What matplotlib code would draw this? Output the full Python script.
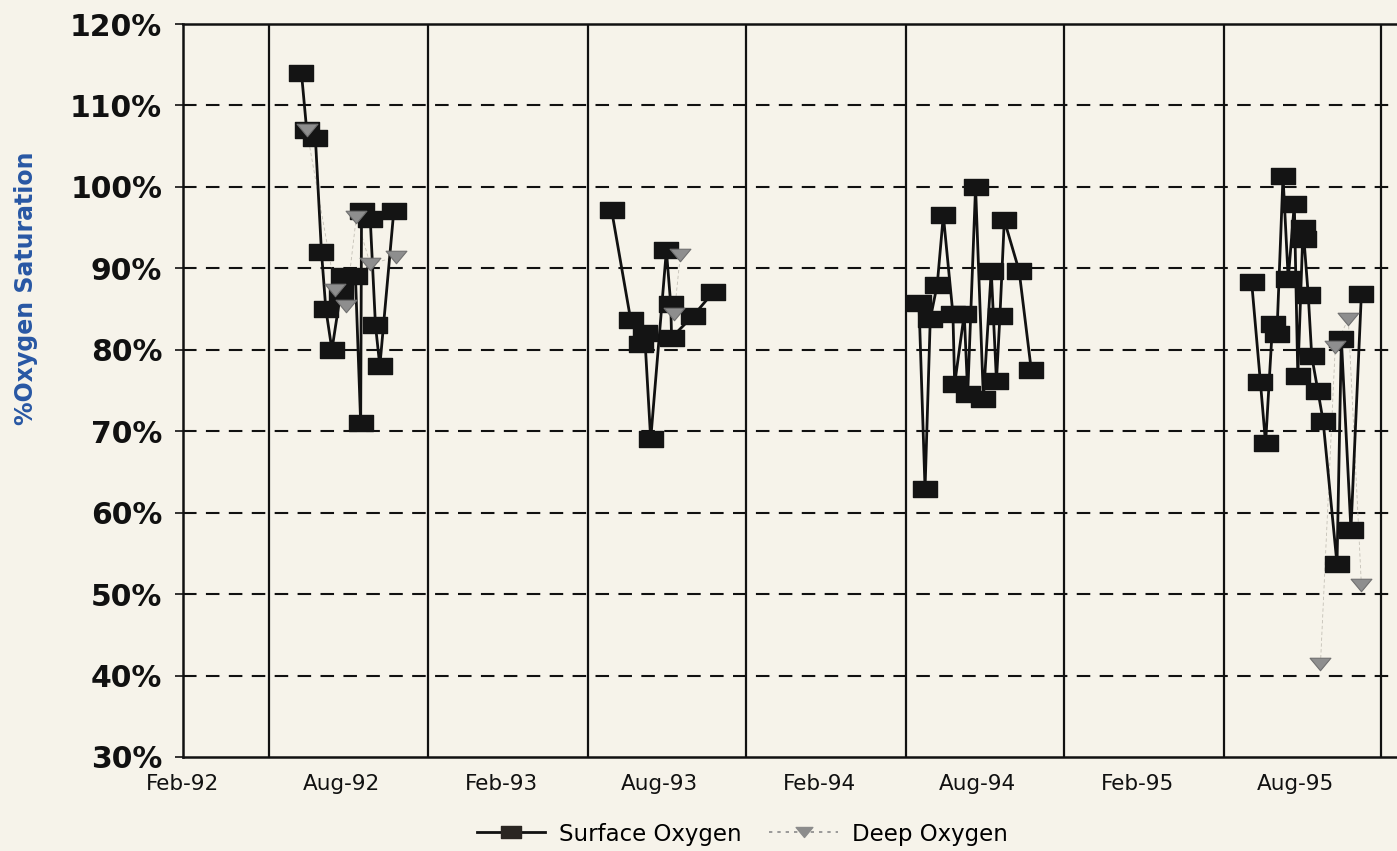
import numpy as np
import pandas as pd
import matplotlib
matplotlib.use("Agg")
import matplotlib.pyplot as plt
from matplotlib.path import Path
from matplotlib.lines import Line2D
from matplotlib.ticker import FuncFormatter

# ---- data: % oxygen saturation, summer sampling seasons 1992-1995 ----
surface_dates = [
    "1992-06-16", "1992-06-22", "1992-07-02", "1992-07-09", "1992-07-14",
    "1992-07-21", "1992-07-31", "1992-08-03", "1992-08-17", "1992-08-23",
    "1992-08-24", "1992-09-03", "1992-09-09", "1992-09-14", "1992-09-30",
    "1993-06-07", "1993-06-29", "1993-07-11", "1993-07-15", "1993-07-22",
    "1993-08-09", "1993-08-14", "1993-08-15", "1993-09-09", "1993-10-02",
    "1994-05-26", "1994-06-02", "1994-06-08", "1994-06-16", "1994-06-23",
    "1994-07-04", "1994-07-06", "1994-07-17", "1994-07-21", "1994-07-30",
    "1994-08-08", "1994-08-17", "1994-08-23", "1994-08-27", "1994-09-01",
    "1994-09-18", "1994-10-02",
    "1995-06-12", "1995-06-22", "1995-06-28", "1995-07-06", "1995-07-11",
    "1995-07-18", "1995-07-24", "1995-07-31", "1995-08-04", "1995-08-10",
    "1995-08-11", "1995-08-16", "1995-08-20", "1995-08-27", "1995-09-02",
    "1995-09-18", "1995-09-23", "1995-10-04", "1995-10-16",
]
surface_pct = [
    114, 107, 106, 92, 85,
    80, 87, 89, 89, 71,
    97, 96, 83, 78, 97,
    97.2, 83.7, 80.7, 82.0, 69.0,
    92.2, 85.6, 81.5, 84.2, 87.1,
    85.8, 62.9, 83.8, 88.0, 96.5,
    84.4, 75.8, 84.4, 74.6, 100.0,
    74.0, 89.7, 76.2, 84.2, 95.9,
    89.7, 77.5,
    88.3, 76.1, 68.5, 83.2, 81.9,
    101.3, 88.7, 97.9, 76.8, 94.9,
    93.6, 86.7, 79.2, 75.0, 71.3,
    53.7, 81.3, 57.9, 86.9,
]

deep_dates = [
    "1992-06-22", "1992-07-25", "1992-08-06", "1992-08-18", "1992-09-03",
    "1992-10-02",
    "1993-08-18", "1993-08-25",
    "1995-08-30", "1995-09-16", "1995-10-01", "1995-10-16",
]
deep_pct = [
    107, 87.3, 85.4, 96.3, 90.5,
    91.4,
    84.4, 91.6,
    41.4, 80.4, 83.8, 51.1,
]

label_dates = ["1992-02-01", "1992-08-01", "1993-02-01", "1993-08-01",
               "1994-02-01", "1994-08-01", "1995-02-01", "1995-08-01"]
y_ticks = [30, 40, 50, 60, 70, 80, 90, 100, 110, 120]


def with_breaks(dates, values, gap_days=90):
    """Insert NaN between sampling seasons so lines do not span the winters."""
    d = pd.to_datetime(pd.Series(dates))
    v = pd.Series(values, dtype=float)
    xs, ys = [], []
    for i in range(len(d)):
        if i > 0 and (d[i] - d[i - 1]).days > gap_days:
            xs.append(d[i - 1] + (d[i] - d[i - 1]) / 2)
            ys.append(np.nan)
        xs.append(d[i])
        ys.append(v[i])
    return xs, ys


bg = "#f6f3ea"
ink = "#111111"
W, H = 1397, 851
fig = plt.figure(figsize=(W / 100, H / 100), dpi=100, facecolor=bg)
ax = fig.add_axes([183 / W, 1 - 757 / H, (1445 - 183) / W, (757 - 24) / H])
ax.set_facecolor(bg)

# wide, flat markers
rect = Path([(-1, -0.63), (1, -0.63), (1, 0.63), (-1, 0.63), (-1, -0.63)],
            [Path.MOVETO, Path.LINETO, Path.LINETO, Path.LINETO, Path.CLOSEPOLY])
tri = Path([(-1, 0.6), (1, 0.6), (0, -0.6), (-1, 0.6)],
           [Path.MOVETO, Path.LINETO, Path.LINETO, Path.CLOSEPOLY])

sx, sy = with_breaks(surface_dates, surface_pct)
dx, dy = with_breaks(deep_dates, deep_pct)

ax.plot(dx, dy, color="#c4c0b6", lw=0.6, ls=(0, (4, 3)), zorder=3)
ax.plot(sx, sy, color=ink, lw=2.0, marker=rect, markersize=17.5,
        markerfacecolor="#141414", markeredgecolor="#141414", zorder=4)
ax.plot(pd.to_datetime(pd.Series(deep_dates)), deep_pct, ls="none", marker=tri,
        markersize=15, markerfacecolor="#8e8e8e", markeredgecolor="#707070",
        markeredgewidth=0.8, zorder=5)

ax.set_xlim(pd.Timestamp("1992-02-12"), pd.Timestamp("1996-01-20"))
ax.set_ylim(30, 120)

# vertical grid lines sit half way between the date labels
lab = pd.to_datetime(pd.Series(label_dates))
grid_dates = list(lab + pd.Timedelta(days=99))
ax.set_xticks(grid_dates)
ax.set_xticklabels([""] * len(grid_dates))
ax.tick_params(axis="x", which="major", length=0)
ax.grid(axis="x", which="major", color=ink, lw=1.6, ls="-", zorder=1)

ax.set_xticks(list(lab), minor=True)
ax.set_xticklabels([d.strftime("%b-%y") for d in lab], minor=True,
                   fontsize=15.5, family="DejaVu Sans", color=ink)
ax.tick_params(axis="x", which="minor", length=0, pad=12)

ax.set_yticks(y_ticks)
ax.yaxis.set_major_formatter(FuncFormatter(lambda v, p: f"{v:.0f}%"))
ax.tick_params(axis="y", length=6, width=1.2, direction="out", pad=9,
               labelsize=21.5, colors=ink)
for t in ax.get_yticklabels():
    t.set_fontweight("bold")
    t.set_family("DejaVu Sans")
ax.grid(axis="y", color=ink, lw=1.5, ls=(0, (6.5, 4.5)), zorder=1)
ax.set_axisbelow(True)
# the outer frame already marks 30% and 120%
ygrid = ax.yaxis.get_gridlines()
ygrid[0].set_visible(False)
ygrid[-1].set_visible(False)

for s in ax.spines.values():
    s.set_color(ink)
    s.set_linewidth(1.8)

fig.text(26 / W, 1 - 288 / H, "%Oxygen Saturation", rotation=90,
         ha="center", va="center", fontsize=17, fontweight="bold",
         color="#2857a4", family="DejaVu Sans")

handles = [
    Line2D([], [], color=ink, lw=2.0, marker=rect, markersize=14,
           markerfacecolor="#2a2622", markeredgecolor="#2a2622"),
    Line2D([], [], color="#8a8a8a", lw=1.2, ls=(0, (2, 3)), marker=tri,
           markersize=12, markerfacecolor="#8c8c8c", markeredgecolor="#8c8c8c"),
]
fig.legend(handles, ["Surface Oxygen", "Deep Oxygen"], loc="center",
           bbox_to_anchor=(742 / W, 1 - 834 / H), ncol=2, frameon=False,
           handlelength=3.0, columnspacing=1.2, handletextpad=0.6,
           prop={"family": "DejaVu Sans", "size": 16.5})

fig.savefig("out.png", dpi=100, facecolor=bg)
